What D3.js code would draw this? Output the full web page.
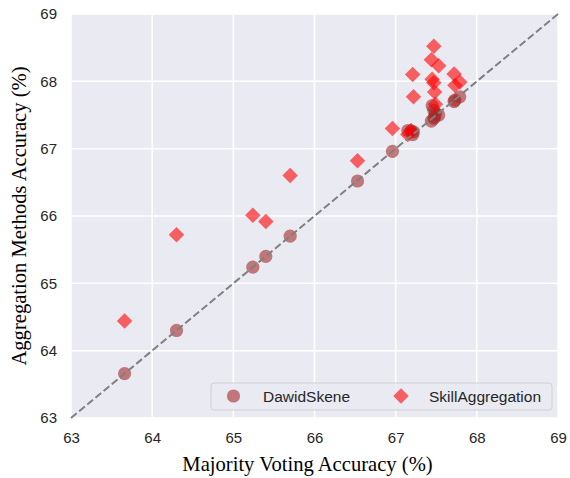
<!DOCTYPE html>
<html>
<head>
<meta charset="utf-8">
<script src="https://cdn.jsdelivr.net/npm/d3@7"></script>
<style>
  body { margin: 0; background: #fff; }
  svg { display: block; }
</style>
</head>
<body>
<svg id="chart" width="570" height="478"></svg>
<script>
// majority voting accuracy (x) for each run
const mvAcc = [63.66, 64.30, 65.24, 65.40, 65.70, 66.53, 66.96, 67.15, 67.19, 67.21, 67.22,
  67.44, 67.45, 67.47, 67.48, 67.49, 67.53, 67.47, 67.72, 67.73, 67.79]
// aggregated accuracy per method
const dawidSkene = [63.66, 64.30, 65.24, 65.40, 65.70, 66.52, 66.96, 67.27, 67.26, 67.21, 67.25,
  67.41, 67.64, 67.57, 67.47, 67.52, 67.50, 67.45, 67.70, 67.72, 67.77]
const skillAgg = [64.44, 65.72, 66.01, 65.92, 66.60, 66.82, 67.30, 67.21, 67.27, 68.10, 67.77,
  68.32, 68.03, 68.52, 67.84, 67.66, 68.23, 67.98, 68.11, 67.94, 67.99]
const ticks = [63, 64, 65, 66, 67, 68, 69]
const domain = [63, 69]

const svg = d3.select("#chart")
const plotL = 71, plotR = 558, plotT = 14, plotB = 418

const x = d3.scaleLinear().domain(domain).range([plotL, plotR])
const y = d3.scaleLinear().domain(domain).range([plotB, plotT])

// seaborn darkgrid background
svg.append("rect")
  .attr("x", plotL).attr("y", plotT)
  .attr("width", plotR-plotL).attr("height", plotB-plotT)
  .attr("fill", "#eaeaf2")

// grid lines
svg.append("g")
  .selectAll("line")
  .data(ticks)
  .join("line")
  .attr("x1", d => x(d)).attr("x2", d => x(d))
  .attr("y1", plotT).attr("y2", plotB)
  .attr("stroke", "#fff").attr("stroke-width", 1.5)
svg.append("g")
  .selectAll("line")
  .data(ticks)
  .join("line")
  .attr("y1", d => y(d)).attr("y2", d => y(d))
  .attr("x1", plotL).attr("x2", plotR)
  .attr("stroke", "#fff").attr("stroke-width", 1.5)

// tick labels via axes, no tick marks or domain
const xAxis = svg.append("g")
  .attr("transform", `translate(0,${plotB})`)
  .call(d3.axisBottom(x).tickValues(ticks).tickSize(0).tickPadding(14).tickFormat(d3.format("d")))
const yAxis = svg.append("g")
  .attr("transform", `translate(${plotL},0)`)
  .call(d3.axisLeft(y).tickValues(ticks).tickSize(0).tickPadding(14).tickFormat(d3.format("d")))
for (const ax of [xAxis, yAxis]) {
  ax.select(".domain").remove()
  ax.selectAll("text")
    .style("font-family", "'Liberation Sans', Arial, sans-serif")
    .style("font-size", "15px")
    .attr("fill", "#262626")
}

const pts = mvAcc.map((v, i) => ({mv: v, ds: dawidSkene[i], sa: skillAgg[i]}))

const diamond = d3.symbol().type(d3.symbolSquare).size(120)

// DawidSkene circles
svg.append("g")
  .selectAll("circle")
  .data(pts)
  .join("circle")
  .attr("cx", d => x(d.mv))
  .attr("cy", d => y(d.ds))
  .attr("r", 6.6)
  .attr("fill", "brown")
  .attr("fill-opacity", 0.6)

// SkillAggregation diamonds
svg.append("g")
  .selectAll("path")
  .data(pts)
  .join("path")
  .attr("d", diamond)
  .attr("transform", d => `translate(${x(d.mv)},${y(d.sa)}) rotate(45)`)
  .attr("fill", "red")
  .attr("fill-opacity", 0.6)

// y = x reference line
svg.append("path")
  .attr("d", d3.line()(domain.map(v => [x(v), y(v)])))
  .attr("fill", "none")
  .attr("stroke", "#808080")
  .attr("stroke-width", 2)
  .attr("stroke-dasharray", "7.4,3.2")

// legend
const lg = svg.append("g")
lg.append("rect")
  .attr("x", 211).attr("y", 383)
  .attr("width", 341).attr("height", 27)
  .attr("rx", 3)
  .attr("fill", "#eaeaf2").attr("fill-opacity", 0.8)
  .attr("stroke", "#d0d0d0").attr("stroke-width", 1)
lg.append("circle")
  .attr("cx", 233.5).attr("cy", 396)
  .attr("r", 6.6)
  .attr("fill", "brown").attr("fill-opacity", 0.6)
lg.append("path")
  .attr("d", diamond)
  .attr("transform", "translate(401,396) rotate(45)")
  .attr("fill", "red").attr("fill-opacity", 0.6)
lg.selectAll("text")
  .data([["DawidSkene", 263], ["SkillAggregation", 429]])
  .join("text")
  .attr("x", d => d[1]).attr("y", 401.5)
  .text(d => d[0])
  .style("font-family", "'Liberation Sans', Arial, sans-serif")
  .style("font-size", "15.5px")
  .attr("fill", "#262626")

// axis titles
svg.append("text")
  .attr("x", (plotL+plotR)/2 - 7).attr("y", 471)
  .attr("text-anchor", "middle")
  .style("font-family", "'Liberation Serif', 'Times New Roman', serif")
  .style("font-size", "20.6px")
  .attr("fill", "#000")
  .text("Majority Voting Accuracy (%)")
svg.append("text")
  .attr("transform", `translate(26,${(plotT+plotB)/2}) rotate(-90)`)
  .attr("text-anchor", "middle")
  .style("font-family", "'Liberation Serif', 'Times New Roman', serif")
  .style("font-size", "20.6px")
  .attr("fill", "#000")
  .text("Aggregation Methods Accuracy (%)")
</script>
</body>
</html>
